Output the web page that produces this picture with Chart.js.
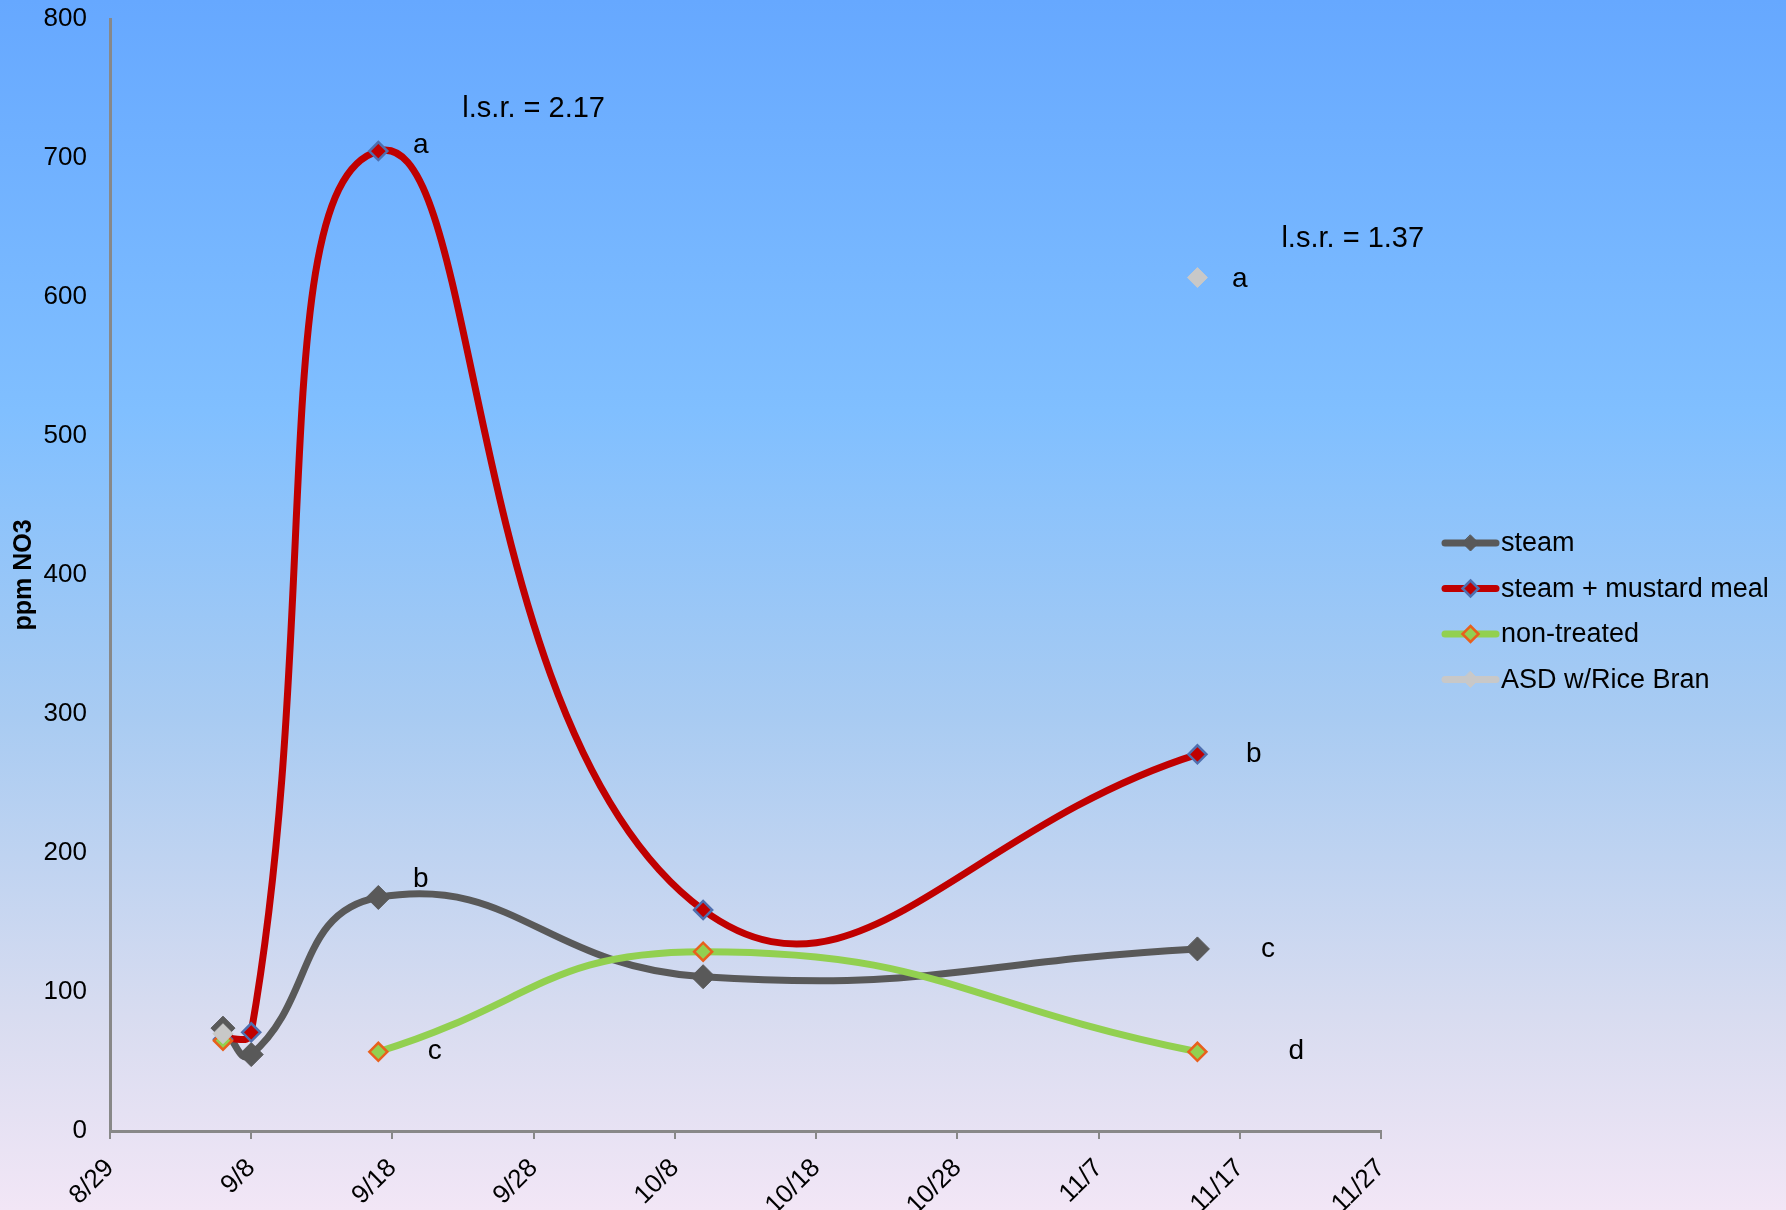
<!DOCTYPE html>
<html>
<head>
<meta charset="utf-8">
<script src="https://cdn.jsdelivr.net/npm/chart.js@4.4.1/dist/chart.umd.min.js"></script>
<style>
  html, body { margin: 0; padding: 0; }
  body { width: 1786px; height: 1210px; overflow: hidden; }
  #wrap { width: 1786px; height: 1210px; position: relative; }
</style>
</head>
<body>
<div id="wrap"><canvas id="no3Chart"></canvas></div>
<script>
// x axis: days counted from 8/29, one tick every 10 days
const startDate = '8/29';
const tickLabels = ['8/29', '9/8', '9/18', '9/28', '10/8', '10/18', '10/28', '11/7', '11/17', '11/27'];
const sampleDates = ['9/6', '9/8', '9/17', '10/10', '11/14'];

// ppm NO3 per sample date
const steam = [74, 55, 168, 111, 131];
const steamMustard = [66, 71, 705, 159, 271];
const nonTreated = [65, null, 57, 129, 57];
const asdRiceBran = [70, null, null, null, 614];
const seriesNames = ['steam', 'steam + mustard meal', 'non-treated', 'ASD w/Rice Bran'];

// significance letters and l.s.r. notes (date, value)
const noteText = ['l.s.r. = 2.17', 'a', 'l.s.r. = 1.37', 'a', 'b', 'b', 'c', 'c', 'd'];
const noteDate = ['9/28', '9/20', '11/25', '11/17', '11/18', '9/20', '11/19', '9/21', '11/21'];
const noteValue = [735, 709, 642, 613, 271, 181, 131, 57, 57];

function dayOf(md) {
    const [m, d] = md.split('/').map(Number);
    const [m0, d0] = startDate.split('/').map(Number);
    return (Date.UTC(2010, m - 1, d) - Date.UTC(2010, m0 - 1, d0)) / 86400000;
}

const xDays = sampleDates.map(dayOf);
const toPoints = arr => xDays.map((x, i) => ({ x: x, y: arr[i] }));

const FONT = '"Liberation Sans", Arial, sans-serif';

const bgPlugin = {
    id: 'bg',
    beforeDraw(chart) {
        const { ctx, width, height } = chart;
        const g = ctx.createLinearGradient(0, 0, 0, height);
        g.addColorStop(0, '#66a8ff');
        g.addColorStop(0.34, '#80bfff');
        g.addColorStop(0.59, '#a8cbf2');
        g.addColorStop(0.84, '#d8dcf0');
        g.addColorStop(1, '#f2e6f6');
        ctx.save();
        ctx.fillStyle = g;
        ctx.fillRect(0, 0, width, height);
        ctx.restore();
    }
};

const notesPlugin = {
    id: 'notes',
    afterDatasetsDraw(chart) {
        const { ctx, scales } = chart;
        ctx.save();
        ctx.fillStyle = '#000';
        ctx.textAlign = 'center';
        ctx.textBaseline = 'middle';
        noteText.forEach((t, i) => {
            ctx.font = (t.length > 1 ? '29px ' : '28px ') + FONT;
            ctx.fillText(t, scales.x.getPixelForValue(dayOf(noteDate[i])), scales.y.getPixelForValue(noteValue[i]));
        });
        ctx.restore();
    }
};

// legend: line sample with marker, drawn by hand
const legendPlugin = {
    id: 'customLegend',
    afterDraw(chart) {
        const { ctx } = chart;
        const x0 = 1442, w = 57, top = 543, step = 45.5;
        ctx.save();
        ctx.font = '27px ' + FONT;
        ctx.textBaseline = 'middle';
        ctx.textAlign = 'left';
        chart.data.datasets.forEach((ds, i) => {
            const y = top + i * step;
            ctx.strokeStyle = ds.borderColor;
            ctx.lineWidth = 7;
            ctx.lineCap = 'round';
            ctx.beginPath();
            ctx.moveTo(x0 + 3, y);
            ctx.lineTo(x0 + w - 3, y);
            ctx.stroke();
            const r = 8;
            const cx = x0 + w / 2;
            ctx.beginPath();
            ctx.moveTo(cx, y - r);
            ctx.lineTo(cx + r, y);
            ctx.lineTo(cx, y + r);
            ctx.lineTo(cx - r, y);
            ctx.closePath();
            ctx.fillStyle = ds.pointBackgroundColor;
            ctx.fill();
            ctx.lineWidth = ds.pointBorderWidth;
            ctx.strokeStyle = ds.pointBorderColor;
            ctx.stroke();
            ctx.fillStyle = '#000';
            ctx.fillText(ds.label, x0 + w + 2, y + 1);
        });
        ctx.restore();
    }
};

const ctx = document.getElementById('no3Chart').getContext('2d');
new Chart(ctx, {
    type: 'line',
    data: {
        datasets: [
            {
                label: seriesNames[0],
                data: toPoints(steam),
                borderColor: '#595959',
                borderWidth: 7,
                pointStyle: 'rectRot',
                pointRadius: 12,
                pointBackgroundColor: '#595959',
                pointBorderColor: '#595959',
                pointBorderWidth: 1,
                order: 4
            },
            {
                label: seriesNames[1],
                data: toPoints(steamMustard),
                borderColor: '#c00000',
                borderWidth: 7,
                pointStyle: 'rectRot',
                pointRadius: 9,
                pointBackgroundColor: '#c00000',
                pointBorderColor: '#4f6faf',
                pointBorderWidth: 2.5,
                order: 3
            },
            {
                label: seriesNames[2],
                data: toPoints(nonTreated),
                borderColor: '#92d050',
                borderWidth: 7,
                pointStyle: 'rectRot',
                pointRadius: 9,
                pointBackgroundColor: '#92d050',
                pointBorderColor: '#e8601c',
                pointBorderWidth: 2.5,
                order: 2
            },
            {
                label: seriesNames[3],
                data: toPoints(asdRiceBran),
                borderColor: '#c8c8c8',
                borderWidth: 7,
                pointStyle: 'rectRot',
                pointRadius: 10,
                pointBackgroundColor: '#c8c8c8',
                pointBorderColor: '#c8c8c8',
                pointBorderWidth: 1,
                order: 1
            }
        ]
    },
    options: {
        responsive: true,
        maintainAspectRatio: false,
        animation: false,
        spanGaps: false,
        elements: { line: { tension: 0.48, capBezierPoints: false } },
        layout: { padding: { top: 19, right: 405, left: 0, bottom: 0 } },
        plugins: {
            legend: { display: false },
            tooltip: { enabled: false }
        },
        scales: {
            x: {
                type: 'linear',
                min: 0,
                max: 90,
                afterFit(scale) { scale.height = 79; },
                ticks: {
                    stepSize: 10,
                    autoSkip: false,
                    minRotation: 45,
                    maxRotation: 45,
                    color: '#000',
                    padding: 14,
                    font: { family: FONT, size: 26 },
                    callback: v => tickLabels[Math.round(v / 10)]
                },
                grid: { drawOnChartArea: false, drawTicks: true, tickLength: 8, color: '#888', lineWidth: 2 },
                border: { display: true, color: '#888', width: 3 }
            },
            y: {
                min: 0,
                max: 800,
                afterFit(scale) {
                    scale.width = 110;
                    scale.paddingTop = 0;
                    scale.paddingBottom = 0;
                },
                ticks: {
                    stepSize: 100,
                    color: '#000',
                    padding: 23,
                    font: { family: FONT, size: 26 }
                },
                grid: { display: false, drawTicks: false },
                border: { display: true, color: '#888', width: 3 },
                title: {
                    display: true,
                    text: 'ppm NO3',
                    color: '#000',
                    padding: { top: 9, bottom: 0 },
                    font: { family: FONT, size: 25, weight: 'bold' }
                }
            }
        }
    },
    plugins: [bgPlugin, notesPlugin, legendPlugin]
});
</script>
</body>
</html>
